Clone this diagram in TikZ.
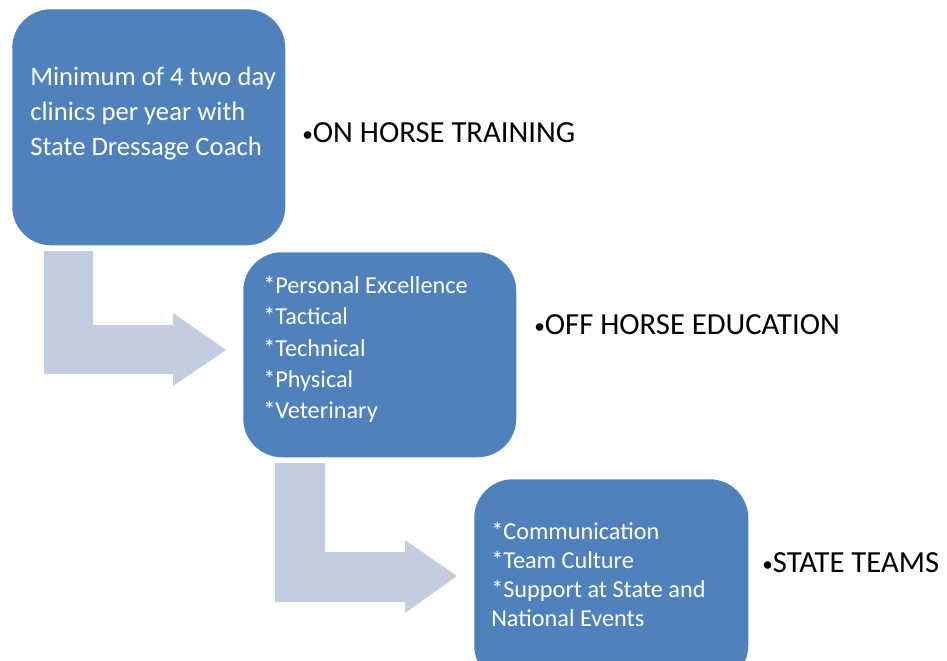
\documentclass[tikz,border=0pt]{standalone}
\usepackage{fontspec}
\setmainfont{Carlito}
\usetikzlibrary{calc}
\definecolor{boxblue}{HTML}{4F81BD}
\definecolor{arrowblue}{HTML}{C3CDE2}
\newcommand{\smallbullet}{{\fontsize{16}{16}\selectfont\raisebox{1.2pt}{•}}}
\tikzset{
	stepbox/.style={fill=boxblue, rounded corners=29pt, inner sep=0pt},
	boxtext/.style={text=white, align=left, anchor=west, inner sep=0pt, font=\fontsize{18.2}{23}\selectfont},
	sidelabel/.style={anchor=west, inner sep=0pt, font=\fontsize{23}{26}\selectfont}
}

\begin{document}
\begin{tikzpicture}[x=0.75pt, y=-0.75pt]
		%%%%% START %%%%%
		\useasboundingbox (0, 0) rectangle (947, 661);
		\clip (0, 0) rectangle (947, 661);
		
		% bent arrows
		\fill[arrowblue] (44, 251) -- (93, 251) -- (93, 325) -- (173, 325) -- (173, 313) -- (226, 350) -- (173, 386) -- (173, 374) -- (44, 374) -- cycle;
		\fill[arrowblue] (275, 463) -- (325, 463) -- (325, 552) -- (405, 552) -- (405, 540) -- (457, 576) -- (405, 613) -- (405, 602) -- (275, 602) -- cycle;
		
		% boxes
		\node[stepbox, anchor=north west, minimum width=204.75pt, minimum height=177pt] (train) at (12, 9) {};
		\node[stepbox, anchor=north west, minimum width=204.75pt, minimum height=153.75pt] (educ) at (243, 252) {};
		\node[stepbox, anchor=north west, minimum width=205.5pt, minimum height=153.75pt] (teams) at (474, 479) {};
		
		% box texts
		\node[boxtext, font=\fontsize{20}{26.25}\selectfont] (traintext) at (30, 114) {Minimum of 4 two day\\clinics per year with\\State Dressage Coach};
		\node[boxtext, font=\fontsize{18.2}{23.4}\selectfont] (eductext) at (263, 349.5) {*Personal Excellence\\*Tactical\\*Technical\\*Physical\\*Veterinary};
		\node[boxtext, font=\fontsize{18.2}{21.75}\selectfont] (teamstext) at (491, 574.5) {*Communication\\*Team Culture\\*Support at State and\\National Events};
		
		% side labels
		\node[sidelabel] (trainlabel) at (302, 133) {\smallbullet ON HORSE TRAINING};
		\node[sidelabel] (educlabel) at (534, 325) {\smallbullet OFF HORSE EDUCATION};
		\node[sidelabel] (teamslabel) at (762, 563) {\smallbullet STATE TEAMS};
		
		%%%%% END %%%%%
	\end{tikzpicture}
\end{document}
